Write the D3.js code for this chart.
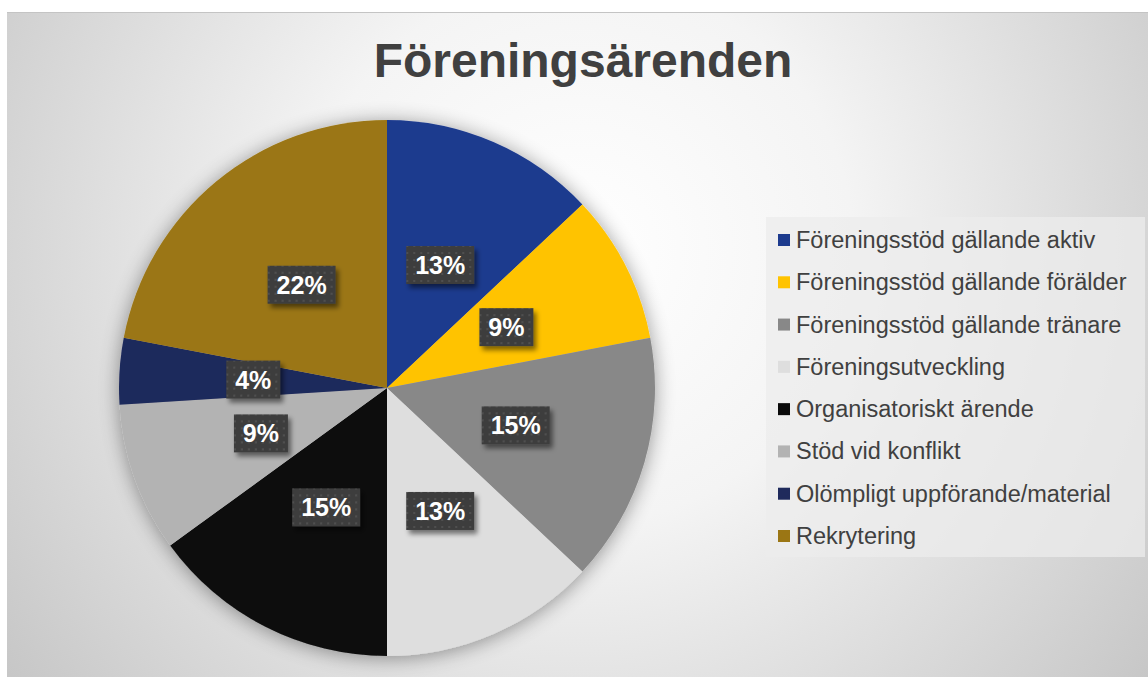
<!DOCTYPE html>
<html>
<head>
<meta charset="utf-8">
<script src="https://cdn.jsdelivr.net/npm/d3@7"></script>
<style>
  body { margin: 0; background: #fff; }
  svg { display: block; }
</style>
</head>
<body>
<svg width="1148" height="677"></svg>
<script>
// data
const categories = [
  'Föreningsstöd gällande aktiv',
  'Föreningsstöd gällande förälder',
  'Föreningsstöd gällande tränare',
  'Föreningsutveckling',
  'Organisatoriskt ärende',
  'Stöd vid konflikt',
  'Olömpligt uppförande/material',
  'Rekrytering'
]
const values = [13, 9, 15, 13, 15, 9, 4, 22]
const colors = ['#1d3b8e', '#ffc300', '#888888', '#dedede', '#0a0a0a', '#b3b3b3', '#1f2a5c', '#9b7614']
const title = 'Föreningsärenden'

const svg = d3.select('svg')
const width = 1148
const height = 677
const cx = 387, cy = 388, radius = 268

const defs = svg.append('defs')

const bg = defs.append('radialGradient')
  .attr('id', 'bg')
  .attr('gradientUnits', 'userSpaceOnUse')
  .attr('cx', 580).attr('cy', 250).attr('r', 720)
bg.append('stop').attr('offset', '0%').attr('stop-color', '#ffffff')
bg.append('stop').attr('offset', '38%').attr('stop-color', '#f4f4f4')
bg.append('stop').attr('offset', '100%').attr('stop-color', '#c6c6c6')

const pieShadow = defs.append('filter').attr('id', 'pieShadow')
  .attr('x', '-20%').attr('y', '-20%').attr('width', '140%').attr('height', '140%')
pieShadow.append('feGaussianBlur').attr('in', 'SourceAlpha').attr('stdDeviation', 10)
pieShadow.append('feOffset').attr('dx', 0).attr('dy', 2).attr('result', 'blur')
pieShadow.append('feComponentTransfer').append('feFuncA').attr('type', 'linear').attr('slope', 0.4)
const pm = pieShadow.append('feMerge')
pm.append('feMergeNode')
pm.append('feMergeNode').attr('in', 'SourceGraphic')

const boxShadow = defs.append('filter').attr('id', 'boxShadow')
  .attr('x', '-30%').attr('y', '-30%').attr('width', '160%').attr('height', '170%')
boxShadow.append('feGaussianBlur').attr('in', 'SourceAlpha').attr('stdDeviation', 2.5)
boxShadow.append('feOffset').attr('dx', 3).attr('dy', 4)
boxShadow.append('feComponentTransfer').append('feFuncA').attr('type', 'linear').attr('slope', 0.5)
const bm = boxShadow.append('feMerge')
bm.append('feMergeNode')
bm.append('feMergeNode').attr('in', 'SourceGraphic')

const dots = defs.append('pattern')
  .attr('id', 'dots')
  .attr('patternUnits', 'userSpaceOnUse')
  .attr('width', 7).attr('height', 7)
dots.append('rect').attr('width', 7).attr('height', 7).attr('fill', '#3e3e3e')
dots.append('circle').attr('cx', 2).attr('cy', 2).attr('r', 1).attr('fill', '#565656')

// background frame
svg.append('rect')
  .attr('x', 7).attr('y', 12)
  .attr('width', width - 7).attr('height', height - 12)
  .attr('fill', 'url(#bg)')
svg.append('line')
  .attr('x1', 7).attr('x2', width).attr('y1', 12.5).attr('y2', 12.5)
  .attr('stroke', '#c4c4c4').attr('stroke-width', 1)

svg.append('text')
  .attr('x', 583).attr('y', 77)
  .attr('text-anchor', 'middle')
  .attr('font-family', 'Liberation Sans, Arial, sans-serif')
  .attr('font-weight', 'bold')
  .attr('font-size', 48)
  .attr('fill', '#404040')
  .text(title)

const pie = d3.pie().sort(null).value(d => d)
const arc = d3.arc().innerRadius(0).outerRadius(radius)
const arcs = pie(values)

const g = svg.append('g').attr('transform', `translate(${cx},${cy})`)

g.append('g')
  .attr('filter', 'url(#pieShadow)')
  .selectAll('path')
  .data(arcs)
  .enter().append('path')
  .attr('d', arc)
  .attr('fill', (d, i) => colors[i])

const labels = g.append('g').selectAll('g')
  .data(arcs)
  .enter().append('g')
  .attr('transform', d => `translate(${arc.centroid(d)})`)

labels.each(function(d) {
  const sel = d3.select(this)
  const txt = d.data + '%'
  const w = txt.length === 2 ? 54 : 68
  sel.append('rect')
    .attr('x', -w / 2).attr('y', -19)
    .attr('width', w).attr('height', 38)
    .attr('fill', 'url(#dots)')
    .attr('filter', 'url(#boxShadow)')
  sel.append('text')
    .attr('text-anchor', 'middle')
    .attr('dy', 9)
    .attr('font-family', 'Liberation Sans, Arial, sans-serif')
    .attr('font-weight', 'bold')
    .attr('font-size', 25)
    .attr('fill', '#ffffff')
    .text(txt)
})

// legend
const legendX = 766, legendY = 217
const legend = svg.append('g')
legend.append('rect')
  .attr('x', legendX).attr('y', legendY)
  .attr('width', 379).attr('height', 340)
  .attr('fill', '#ececec').attr('fill-opacity', 0.75)

const ly = d3.scalePoint().domain(categories).range([240, 536])

const items = legend.selectAll('g.item')
  .data(categories)
  .enter().append('g')
  .attr('class', 'item')
  .attr('transform', d => `translate(0,${ly(d)})`)

items.append('rect')
  .attr('x', 778).attr('y', -6)
  .attr('width', 12).attr('height', 12)
  .attr('fill', (d, i) => colors[i])

items.append('text')
  .attr('x', 796).attr('y', 8)
  .attr('font-family', 'Liberation Sans, Arial, sans-serif')
  .attr('font-size', 23.5)
  .attr('fill', '#404040')
  .text(d => d)
</script>
</body>
</html>
